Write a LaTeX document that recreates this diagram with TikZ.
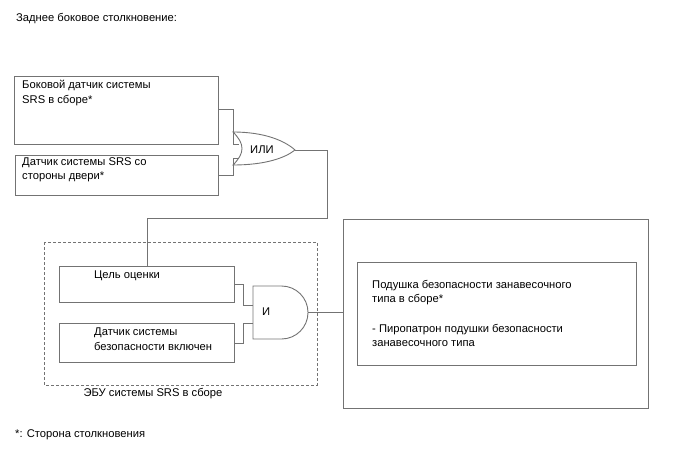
\documentclass[tikz,border=0pt]{standalone}
\usepackage{fontspec}
\setmainfont{Liberation Sans}
\begin{document}
\begin{tikzpicture}[x=1pt,y=-1pt,
  line/.style={draw=black!55,line width=0.9pt},
  box/.style={line},
  txt/.style={anchor=west,inner sep=0pt,font=\fontsize{11.2}{14.5}\selectfont,align=left},
  lbl/.style={anchor=north west,inner sep=0pt,font=\fontsize{11.2}{14.5}\selectfont,align=left}]
\useasboundingbox (0,0) rectangle (688,463);
% title and footnote
\node[txt] (title) at (16,19) {Заднее боковое столкновение:};
\node[txt] (foot) at (15,435) {*: Сторона столкновения};
% top boxes
\draw[box] (14,76) rectangle (218,144);
\node[lbl] (t1) at (22,80) {Боковой датчик системы\\SRS в сборе*};
\coordinate (b1) at (218,109);
\draw[box] (15,155) rectangle (218,195);
\node[lbl] (t2) at (22,157) {Датчик системы SRS со\\стороны двери*};
\coordinate (b2) at (218,175);
% OR gate
\draw[line] (233,132) .. controls (245,144) and (245,153) .. (233,165)
  .. controls (265,165) and (285,158) .. (295,150)
  .. controls (285,141) and (265,132) .. (233,132) -- cycle;
\node[txt] (orl) at (250,150) {ИЛИ};
\coordinate (or1) at (239,144);
\coordinate (or2) at (239,158);
\coordinate (orout) at (295,150);
\draw[line] (b1) -- (233,109) -- (233,144) -- (or1);
\draw[line] (b2) -- (233,175) -- (233,158) -- (or2);
% dashed ECU
\draw[draw=black!55,line width=0.8pt,dash pattern=on 3pt off 2pt] (44,242) rectangle (317,385);
\node[anchor=center,inner sep=0pt,font=\fontsize{11.2}{14.5}\selectfont] (ecu) at (153,394) {ЭБУ системы SRS в сборе};
\draw[box] (59,266) rectangle (234,302);
\node[txt] (t3) at (94,276) {Цель оценки};
\coordinate (c3) at (147,266);
\draw[box] (59,323) rectangle (234,362);
\node[lbl] (t4) at (94,328) {Датчик системы\\безопасности включен};
% AND gate
\draw[line] (253,286) -- (281.5,286) arc[start angle=-90,end angle=90,radius=26.5] -- (253,339) -- cycle;
\node[txt] (andl) at (262,312) {И};
\coordinate (and1) at (253,305);
\coordinate (and2) at (253,323);
\coordinate (andout) at (308,312.5);
\draw[line] (234,284) -- (243,284) -- (243,305) -- (and1);
\draw[line] (234,343) -- (243,343) -- (243,323) -- (and2);
% OR to ECU
\draw[line] (orout) -- (327,150) -- (327,218) -- (147,218) -- (c3);
% right boxes
\draw[box] (343,219) rectangle (648,408);
\draw[box] (357,262) rectangle (636,365);
\node[lbl] (t5) at (372,280) {Подушка безопасности занавесочного\\типа в сборе*\\[15pt]- Пиропатрон подушки безопасности\\занавесочного типа};
\draw[line] (andout) -- (343,312.5);
\end{tikzpicture}
\end{document}
